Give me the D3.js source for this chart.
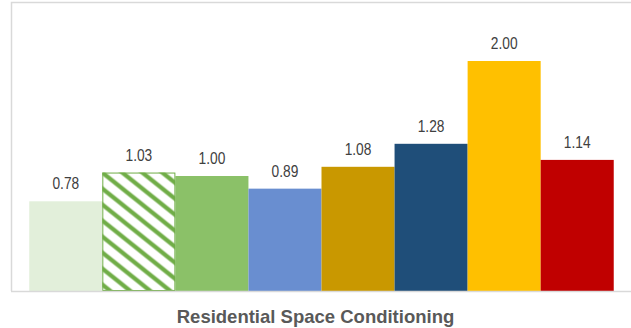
<!DOCTYPE html>
<html>
<head>
<meta charset="utf-8">
<script src="https://cdn.jsdelivr.net/npm/d3@7/dist/d3.min.js"></script>
<style>
  html, body { margin: 0; padding: 0; background: #ffffff; }
  svg { display: block; }
</style>
</head>
<body>
<div id="chart"></div>
<script>
// Relative index values for residential space conditioning, one bar per case
const categories = ["Case 1", "Case 2", "Case 3", "Case 4", "Case 5", "Case 6", "Case 7", "Case 8"];
const values = [0.78, 1.03, 1.00, 0.89, 1.08, 1.28, 2.00, 1.14];
const labels = ["0.78", "1.03", "1.00", "0.89", "1.08", "1.28", "2.00", "1.14"];
const colors = ["#e2efda", "hatch", "#8bc168", "#698ed0", "#c99800", "#1f4e79", "#ffc000", "#c00000"];
const title = "Residential Space Conditioning";

const width = 631, height = 328;
const plot = { left: 11, right: 632, top: 3.5, bottom: 291 };

const svg = d3.select("#chart").append("svg")
  .attr("width", width)
  .attr("height", height);

const x = d3.scaleBand()
  .domain(categories)
  .range([plot.left, plot.right])
  .paddingInner(0)
  .paddingOuter(0.25);

const y = d3.scaleLinear()
  .domain([0, 2.5])
  .range([plot.bottom, plot.top]);

// Diagonal green hatch on white; stripes run past the tile edges so they join seamlessly
const hatchGreen = "#70ad47";
const hW = 20, hH = 16;
const defs = svg.append("defs");
const hatchIdx = colors.indexOf("hatch");
const pat = defs.append("pattern")
  .attr("id", "hatch")
  .attr("patternUnits", "userSpaceOnUse")
  .attr("x", x(categories[hatchIdx]))
  .attr("y", y(values[hatchIdx]))
  .attr("width", hW)
  .attr("height", hH);
pat.append("rect").attr("width", hW).attr("height", hH).attr("fill", "#ffffff");
let hatchPath = "";
for (let k = -2; k <= 2; k++) {
  hatchPath += `M${k * hW - 1.5 * hW},${-1.5 * hH}L${k * hW + 1.5 * hW},${1.5 * hH}`;
}
pat.append("path")
  .attr("d", hatchPath)
  .attr("stroke", hatchGreen)
  .attr("stroke-width", 4.2)
  .attr("fill", "none");

// Chart frame (left and top edges)
const frame = svg.append("g").attr("stroke", "#d9d9d9").attr("stroke-width", 1.5).attr("fill", "none");
frame.append("path").attr("d", `M${plot.left + 0.5},${plot.bottom}V2.5H${width}`);

// Bars
svg.append("g").selectAll("rect")
  .data(categories)
  .join("rect")
  .attr("x", d => x(d))
  .attr("y", (d, i) => y(values[i]))
  .attr("width", x.bandwidth())
  .attr("height", (d, i) => y(0) - y(values[i]))
  .attr("fill", (d, i) => colors[i] === "hatch" ? "url(#hatch)" : colors[i]);

// Outline for the hatched bar
svg.append("rect")
  .attr("x", x(categories[hatchIdx]) + 0.5)
  .attr("y", y(values[hatchIdx]) + 0.5)
  .attr("width", x.bandwidth() - 1)
  .attr("height", y(0) - y(values[hatchIdx]) - 1)
  .attr("fill", "none")
  .attr("stroke", hatchGreen)
  .attr("stroke-width", 1);

// Category axis line
svg.append("g")
  .attr("transform", `translate(0,${plot.bottom})`)
  .call(d3.axisBottom(x).tickSize(0).tickFormat(""))
  .call(g => g.select(".domain").attr("stroke", "#d9d9d9").attr("stroke-width", 1.5)
    .attr("d", `M${plot.left},0.5H${width}`));

// Value labels (slightly condensed)
svg.append("g").selectAll("text")
  .data(categories)
  .join("text")
  .attr("transform", (d, i) => `translate(${x(d) + x.bandwidth() / 2},${y(values[i]) - 12}) scale(0.86,1)`)
  .attr("text-anchor", "middle")
  .attr("font-family", "'Liberation Sans', Arial, sans-serif")
  .attr("font-size", 16)
  .attr("fill", "#404040")
  .text((d, i) => labels[i]);

// Axis title
svg.append("text")
  .attr("x", width / 2)
  .attr("y", 323)
  .attr("text-anchor", "middle")
  .attr("font-family", "'Liberation Sans', Arial, sans-serif")
  .attr("font-weight", "bold")
  .attr("font-size", 18.5)
  .attr("fill", "#595959")
  .text(title);
</script>
</body>
</html>
